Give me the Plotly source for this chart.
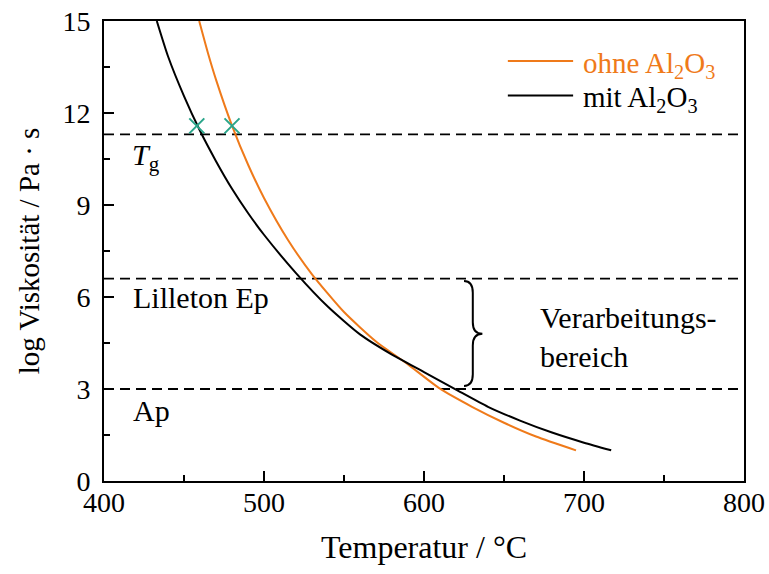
import plotly.graph_objects as go

# ---- data ----
ohne_T = [459.5, 465, 470, 480, 490, 500, 515, 530, 550, 570, 590, 610, 630, 650, 670, 695]
ohne_log = [15.0, 13.95, 13.09, 11.59, 10.32, 9.23, 7.86, 6.74, 5.51, 4.55, 3.80, 3.01, 2.42, 1.90, 1.45, 1.0]

mit_T = [433, 440, 450, 460, 470, 480, 490, 500, 520, 540, 560, 580, 600, 620, 640, 660, 680, 700, 717]
mit_log = [15.0, 13.85, 12.55, 11.42, 10.43, 9.53, 8.74, 8.03, 6.78, 5.68, 4.78, 4.12, 3.55, 2.98, 2.42, 1.97, 1.58, 1.25, 1.0]

tg_T = [458, 480]
tg_log = [11.58, 11.58]

ref_levels = [11.3, 6.6, 3.0]          # Tg, Lilleton Ep, Ap
x_range = [400, 800]
y_range = [0, 15]
x_ticks = [400, 500, 600, 700, 800]
y_ticks = [0, 3, 6, 9, 12, 15]

ORANGE = "#EF7A1A"
TEAL = "#2AA58A"
FONT = "Liberation Serif, Times New Roman, serif"

fig = go.Figure()

for lvl in ref_levels:
    fig.add_trace(go.Scatter(x=x_range, y=[lvl, lvl], mode="lines",
                             line=dict(color="black", width=1.8, dash="10px,6px"),
                             showlegend=False, hoverinfo="skip"))

fig.add_trace(go.Scatter(x=ohne_T, y=ohne_log, mode="lines",
                         line=dict(color=ORANGE, width=2, shape="spline", smoothing=0.6),
                         name="ohne Al2O3", showlegend=False))
fig.add_trace(go.Scatter(x=mit_T, y=mit_log, mode="lines",
                         line=dict(color="black", width=2, shape="spline", smoothing=0.6),
                         name="mit Al2O3", showlegend=False))
fig.add_trace(go.Scatter(x=tg_T, y=tg_log, mode="markers",
                         marker=dict(symbol="x-thin", size=15, line=dict(color=TEAL, width=2)),
                         showlegend=False, hoverinfo="skip"))

# legend (drawn manually for the long line samples)
legend_items = [("ohne Al<sub>2</sub>O<sub>3</sub>", ORANGE, 0.913),
                ("mit Al<sub>2</sub>O<sub>3</sub>", "black", 0.838)]
for label, col, ypos in legend_items:
    fig.add_shape(type="line", xref="paper", yref="paper", x0=0.631, x1=0.733,
                  y0=ypos, y1=ypos, line=dict(color=col, width=2))
    fig.add_annotation(x=0.746, y=ypos - 0.008, xref="paper", yref="paper", text=label,
                       showarrow=False, xanchor="left", yanchor="middle",
                       font=dict(family=FONT, size=29, color=col))

# curly brace spanning the processing range (Lilleton Ep .. Ap)
top, bot = ref_levels[1], ref_levels[2]
mid = (top + bot) / 2
bx0, bx1, bx2 = 625.0, 630.5, 636.5
r = 0.38
brace = (f"M {bx0},{top-0.08} Q {bx1},{top-0.08} {bx1},{top-0.08-r} "
         f"L {bx1},{mid+r} Q {bx1},{mid} {bx2},{mid} "
         f"Q {bx1},{mid} {bx1},{mid-r} "
         f"L {bx1},{bot+0.1+r} Q {bx1},{bot+0.1} {bx0},{bot+0.1}")
fig.add_shape(type="path", path=brace, xref="x", yref="y",
              line=dict(color="black", width=2))

ann_font = dict(family=FONT, size=30, color="black")
fig.add_annotation(x=416.5, y=10.55, xref="x", yref="y", text="<i>T</i><sub>g</sub>",
                   showarrow=False, xanchor="left", yanchor="middle", font=ann_font)
fig.add_annotation(x=417.0, y=5.97, xref="x", yref="y", text="Lilleton Ep",
                   showarrow=False, xanchor="left", yanchor="middle", font=ann_font)
fig.add_annotation(x=417.0, y=2.31, xref="x", yref="y", text="Ap",
                   showarrow=False, xanchor="left", yanchor="middle", font=ann_font)
fig.add_annotation(x=671, y=4.69, xref="x", yref="y", text="Verarbeitungs-<br>bereich",
                   showarrow=False, xanchor="left", yanchor="middle", align="left", font=ann_font)

axis_common = dict(showgrid=False, zeroline=False, showline=True, linecolor="black",
                   linewidth=2, mirror=True, ticks="inside", ticklen=10, tickwidth=1.5,
                   tickcolor="black", automargin=False,
                   tickfont=dict(family=FONT, size=28, color="black"))

fig.update_xaxes(range=x_range, tickvals=x_ticks, ticklabelstandoff=-5,
                 minor=dict(dtick=50, ticks="inside", ticklen=6, tickwidth=1.5, tickcolor="black"),
                 title=dict(text="Temperatur / °C", font=dict(family=FONT, size=32, color="black"),
                            standoff=19),
                 **axis_common)
fig.update_yaxes(range=y_range, tickvals=y_ticks, ticklabelstandoff=6,
                 minor=dict(dtick=1.5, ticks="inside", ticklen=6, tickwidth=1.5, tickcolor="black"),
                 title=dict(text="log Viskosität / Pa · s", font=dict(family=FONT, size=29, color="black"),
                            standoff=14),
                 **axis_common)

fig.update_layout(
    width=769, height=574,
    margin=dict(l=104, r=25, t=21, b=93),
    paper_bgcolor="white", plot_bgcolor="white",
    font=dict(family=FONT, size=28, color="black"),
    showlegend=False,
)

fig.write_html("out.html")
